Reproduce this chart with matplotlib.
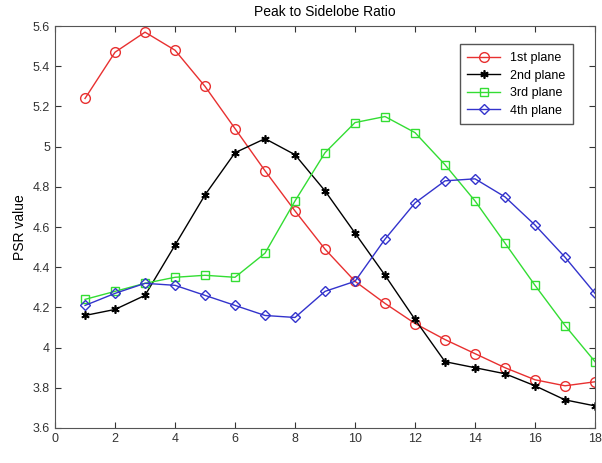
import numpy as np
import matplotlib.pyplot as plt

plt.rcParams['font.family'] = ['Liberation Sans', 'DejaVu Sans']

# -------- DATA ----------
planes = np.arange(1, 19)
plane1 = [5.24, 5.47, 5.57, 5.48, 5.30, 5.09, 4.88, 4.68, 4.49, 4.33, 4.22, 4.12, 4.04, 3.97, 3.90, 3.84, 3.81, 3.83]
plane2 = [4.16, 4.19, 4.26, 4.51, 4.76, 4.97, 5.04, 4.96, 4.78, 4.57, 4.36, 4.14, 3.93, 3.90, 3.87, 3.81, 3.74, 3.71]
plane3 = [4.24, 4.28, 4.32, 4.35, 4.36, 4.35, 4.47, 4.73, 4.97, 5.12, 5.15, 5.07, 4.91, 4.73, 4.52, 4.31, 4.11, 3.93]
plane4 = [4.21, 4.27, 4.32, 4.31, 4.26, 4.21, 4.16, 4.15, 4.28, 4.33, 4.54, 4.72, 4.83, 4.84, 4.75, 4.61, 4.45, 4.27]
labels = ["1st plane", "2nd plane", "3rd plane", "4th plane"]

# -------- PLOT ----------
fig = plt.figure(figsize=(6.02, 4.63), dpi=100)
ax = fig.add_axes([0.0914, 0.0756, 0.897, 0.868])

asterisk = (6, 2, 0)
ax.plot(planes, plane1, '-o', color='#e83030', mfc='none', ms=7, lw=1, label=labels[0])
ax.plot(planes, plane2, '-', marker=asterisk, color='black', ms=6, mew=1.2, lw=1, label=labels[1])
ax.plot(planes, plane3, '-s', color='#33dd33', mfc='none', ms=6, lw=1, label=labels[2])
ax.plot(planes, plane4, '-D', color='#3333cc', mfc='none', ms=5.5, lw=1, label=labels[3])

ax.set_xlim(0, 18)
ax.set_ylim(3.6, 5.6)
ax.set_xticks(np.arange(0, 19, 2))
ax.set_yticks(np.arange(3.6, 5.61, 0.2))
ax.set_yticklabels(["3.6", "3.8", "4", "4.2", "4.4", "4.6", "4.8", "5", "5.2", "5.4", "5.6"])
ax.tick_params(direction='in', top=True, right=True, labelsize=9, colors='#333333', length=4)
for s in ax.spines.values():
    s.set_color('#555555')

ax.set_ylabel("PSR value", fontsize=10)
ax.set_title("Peak to Sidelobe Ratio", fontsize=10, pad=7)
leg = ax.legend(loc='upper right', fontsize=9, fancybox=False, edgecolor='#555555',
                framealpha=1, handlelength=2.6, borderpad=0.6, labelspacing=0.45,
                bbox_to_anchor=(0.97, 0.97))

fig.savefig("out.png", dpi=100)
